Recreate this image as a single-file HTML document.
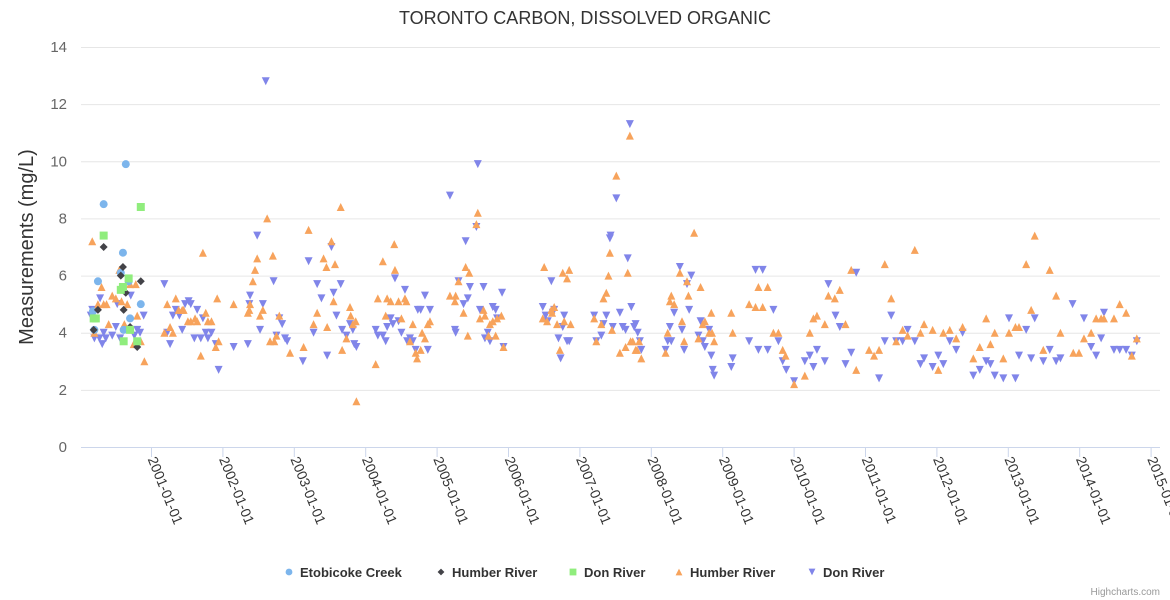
<!DOCTYPE html>
<html><head><meta charset="utf-8"><style>
html,body{margin:0;padding:0;background:#fff;}
svg{display:block;font-family:"Liberation Sans",sans-serif;}
</style></head><body>
<svg id="chart" width="1170" height="600" viewBox="0 0 1170 600">
<text x="585" y="24" text-anchor="middle" font-size="18" fill="#333">TORONTO CARBON, DISSOLVED ORGANIC</text>
<text transform="translate(33,247) rotate(-90)" text-anchor="middle" font-size="20" fill="#333">Measurements (mg/L)</text>
<g id="grid"></g>
<g id="yticks"></g>
<line x1="81" y1="447.5" x2="1160" y2="447.5" stroke="#ccd6eb"/>
<g id="xticks"></g>
<g id="series"></g>
<g id="legend"></g>
<text x="1160" y="595" text-anchor="end" font-size="10" fill="#999">Highcharts.com</text>
</svg>
<script>
const yTicks=[0,2,4,6,8,10,12,14];
const xTickYears=[2001,2002,2003,2004,2005,2006,2007,2008,2009,2010,2011,2012,2013,2014,2015];
const etobicoke=[[2000.18,4.75],[2000.64,9.9],[2000.33,8.5],[2000.6,6.8],[2000.57,6.1],[2000.25,5.8],[2000.68,5.8],[2000.85,5.0],[2000.7,4.5],[2000.61,4.1],[2000.2,4.1]];
const humberA=[[2000.33,7.0],[2000.6,6.3],[2000.57,6.0],[2000.85,5.8],[2000.64,5.4],[2000.61,4.8],[2000.25,4.8],[2000.7,4.2],[2000.19,4.1],[2000.8,3.5]];
const donA=[[2000.33,7.4],[2000.85,8.4],[2000.68,5.9],[2000.6,5.6],[2000.57,5.5],[2000.22,4.5],[2000.19,4.5],[2000.7,4.1],[2000.61,3.7],[2000.8,3.7]];
const humberB=[[2000.17,7.2],[2000.2,4.0],[2000.25,5.0],[2000.3,5.6],[2000.33,5.0],[2000.37,5.0],[2000.4,4.3],[2000.45,5.3],[2000.5,5.2],[2000.55,6.2],[2000.58,5.1],[2000.62,4.3],[2000.66,5.0],[2000.7,5.7],[2000.75,3.6],[2000.8,4.6],[2000.9,3.0],[2000.85,3.7],[2000.78,5.7],
[2001.18,4.0],[2001.22,5.0],[2001.26,4.2],[2001.3,4.0],[2001.34,5.2],[2001.38,4.8],[2001.43,4.8],[2001.45,4.8],[2001.51,4.4],[2001.55,4.4],[2001.61,4.5],[2001.64,4.4],[2001.72,6.8],[2001.69,3.2],[2001.76,4.7],[2001.79,4.4],[2001.84,4.4],[2001.92,5.2],[2001.9,3.5],[2001.94,3.7],
[2002.15,5.0],[2002.35,4.7],[2002.37,4.8],[2002.38,5.0],[2002.42,5.8],[2002.45,6.2],[2002.48,6.6],[2002.52,4.6],[2002.56,4.8],[2002.62,8.0],[2002.7,6.7],[2002.66,3.7],[2002.72,3.7],[2002.75,3.9],[2002.79,4.6],[2002.94,3.3],
[2003.13,3.5],[2003.2,7.6],[2003.27,4.3],[2003.32,4.7],[2003.41,6.6],[2003.45,6.3],[2003.52,7.2],[2003.46,4.2],[2003.55,5.1],[2003.57,6.4],[2003.65,8.4],[2003.67,3.4],[2003.73,3.8],[2003.78,4.9],[2003.79,4.6],[2003.82,4.3],[2003.86,4.4],[2003.87,1.6],
[2004.14,2.9],[2004.17,5.2],[2004.24,6.5],[2004.28,4.6],[2004.3,5.2],[2004.35,5.1],[2004.4,7.1],[2004.41,6.2],[2004.46,5.1],[2004.5,4.5],[2004.55,5.2],[2004.57,5.1],[2004.62,3.7],[2004.66,4.3],[2004.7,3.3],[2004.72,3.1],[2004.77,3.4],[2004.79,4.0],[2004.83,3.8],[2004.87,4.3],[2004.9,4.4],
[2005.18,5.3],[2005.25,5.1],[2005.26,5.3],[2005.3,5.8],[2005.37,4.7],[2005.4,6.3],[2005.43,3.9],[2005.45,6.1],[2005.55,7.8],[2005.57,8.2],[2005.6,4.5],[2005.65,4.8],[2005.67,4.6],[2005.72,3.9],[2005.74,4.3],[2005.78,4.4],[2005.82,3.9],[2005.84,4.5],[2005.9,4.6],[2005.93,3.5],
[2006.48,4.5],[2006.5,6.3],[2006.54,4.4],[2006.6,4.8],[2006.61,4.7],[2006.64,4.9],[2006.68,4.3],[2006.72,3.4],[2006.76,6.1],[2006.78,4.4],[2006.82,5.9],[2006.85,6.2],[2006.87,4.3],
[2007.2,4.5],[2007.23,3.7],[2007.3,4.3],[2007.33,5.2],[2007.37,5.4],[2007.4,6.0],[2007.42,6.8],[2007.45,4.1],[2007.51,9.5],[2007.56,3.3],[2007.64,3.5],[2007.67,6.1],[2007.7,10.9],[2007.71,3.7],[2007.74,3.7],[2007.78,3.4],[2007.8,3.4],[2007.83,3.7],[2007.86,3.1],
[2008.2,3.3],[2008.23,4.0],[2008.26,5.1],[2008.28,5.3],[2008.32,5.0],[2008.4,6.1],[2008.43,4.4],[2008.46,3.7],[2008.52,5.3],[2008.5,5.8],[2008.6,7.5],[2008.69,5.6],[2008.66,3.8],[2008.72,4.3],[2008.75,4.4],[2008.81,4.0],[2008.84,4.7],[2008.85,4.0],[2008.88,3.7],
[2009.12,4.7],[2009.14,4.0],[2009.37,5.0],[2009.46,4.9],[2009.5,5.6],[2009.56,4.9],[2009.63,5.6],[2009.71,4.0],[2009.78,4.0],[2009.84,3.4],[2009.88,3.2],[2010.0,2.2],
[2010.15,2.5],[2010.22,4.0],[2010.27,4.5],[2010.32,4.6],[2010.43,4.3],[2010.48,5.3],[2010.57,5.2],[2010.64,5.5],[2010.72,4.3],[2010.8,6.2],[2010.87,2.7],
[2011.05,3.4],[2011.12,3.2],[2011.19,3.4],[2011.27,6.4],[2011.36,5.2],[2011.43,3.7],[2011.52,4.1],[2011.59,3.9],[2011.69,6.9],[2011.77,4.0],[2011.82,4.3],[2011.94,4.1],
[2012.02,2.7],[2012.09,4.0],[2012.18,4.1],[2012.27,3.8],[2012.36,4.2],[2012.51,3.1],[2012.6,3.5],[2012.69,4.5],[2012.75,3.6],[2012.81,4.0],[2012.93,3.1],
[2013.01,4.0],[2013.1,4.2],[2013.15,4.2],[2013.25,6.4],[2013.32,4.8],[2013.37,7.4],[2013.49,3.4],[2013.58,6.2],[2013.67,5.3],[2013.73,4.0],[2013.91,3.3],[2013.99,3.3],
[2014.06,3.8],[2014.16,4.0],[2014.23,4.5],[2014.3,4.5],[2014.34,4.5],[2014.48,4.5],[2014.56,5.0],[2014.65,4.7],[2014.73,3.2],[2014.8,3.8]];
const donB=[[2000.15,4.6],[2000.17,4.8],[2000.2,3.8],[2000.27,3.8],[2000.28,5.2],[2000.31,3.6],[2000.33,4.0],[2000.36,3.8],[2000.45,3.9],[2000.5,4.2],[2000.52,5.0],[2000.56,3.8],[2000.63,4.1],[2000.71,5.3],[2000.76,3.9],[2000.8,4.1],[2000.84,4.0],[2000.89,4.6],
[2001.18,5.7],[2001.22,4.0],[2001.26,3.6],[2001.3,4.6],[2001.34,4.8],[2001.39,4.6],[2001.43,4.1],[2001.47,5.0],[2001.52,5.1],[2001.55,5.0],[2001.64,4.8],[2001.6,3.8],[2001.69,3.8],[2001.72,4.5],[2001.76,4.0],[2001.79,3.8],[2001.84,4.0],[2001.9,3.6],[2001.94,2.7],
[2002.15,3.5],[2002.35,3.6],[2002.37,5.0],[2002.38,5.3],[2002.48,7.4],[2002.52,4.1],[2002.56,5.0],[2002.6,12.8],[2002.71,5.8],[2002.75,3.9],[2002.79,4.5],[2002.83,4.3],[2002.87,3.8],[2002.9,3.7],
[2003.12,3.0],[2003.2,6.5],[2003.27,4.0],[2003.32,5.7],[2003.38,5.2],[2003.52,7.0],[2003.46,3.2],[2003.55,5.4],[2003.59,4.6],[2003.65,5.7],[2003.67,4.1],[2003.73,3.9],[2003.78,4.3],[2003.82,4.1],[2003.84,3.6],[2003.87,3.5],
[2004.14,4.1],[2004.17,3.9],[2004.24,3.9],[2004.28,3.7],[2004.3,4.2],[2004.35,4.5],[2004.38,4.3],[2004.41,5.9],[2004.46,4.4],[2004.5,4.0],[2004.55,5.5],[2004.58,3.7],[2004.62,3.8],[2004.66,3.7],[2004.7,3.4],[2004.73,4.8],[2004.77,4.8],[2004.83,5.3],[2004.87,3.4],[2004.9,4.8],
[2005.18,8.8],[2005.25,4.1],[2005.26,4.0],[2005.3,5.8],[2005.37,5.0],[2005.4,7.2],[2005.43,5.2],[2005.46,5.6],[2005.55,7.7],[2005.57,9.9],[2005.65,5.6],[2005.6,4.8],[2005.67,3.8],[2005.71,4.0],[2005.74,3.7],[2005.78,4.9],[2005.82,4.8],[2005.84,4.5],[2005.91,5.4],[2005.93,3.5],
[2006.48,4.9],[2006.52,4.6],[2006.55,4.4],[2006.6,5.8],[2006.62,4.7],[2006.64,4.8],[2006.7,3.8],[2006.73,3.1],[2006.76,4.2],[2006.78,4.6],[2006.82,3.7],[2006.85,3.7],
[2007.2,4.6],[2007.23,3.7],[2007.3,3.9],[2007.33,4.3],[2007.37,4.6],[2007.42,7.3],[2007.43,7.4],[2007.46,4.2],[2007.51,8.7],[2007.56,4.7],[2007.6,4.2],[2007.64,4.1],[2007.67,6.6],[2007.7,11.3],[2007.72,4.9],[2007.76,4.2],[2007.78,4.3],[2007.81,4.0],[2007.84,3.7],[2007.86,3.4],
[2008.2,3.4],[2008.23,3.7],[2008.26,4.2],[2008.28,3.7],[2008.32,4.7],[2008.4,6.3],[2008.43,4.1],[2008.46,3.4],[2008.5,5.7],[2008.53,4.8],[2008.56,6.0],[2008.66,3.9],[2008.69,4.4],[2008.72,3.7],[2008.75,3.5],[2008.81,4.1],[2008.84,3.2],[2008.86,2.7],[2008.88,2.5],
[2009.12,2.8],[2009.14,3.1],[2009.37,3.7],[2009.46,6.2],[2009.5,3.4],[2009.56,6.2],[2009.63,3.4],[2009.71,4.8],[2009.78,3.7],[2009.84,3.0],[2009.89,2.7],[2010.0,2.3],
[2010.15,3.0],[2010.22,3.2],[2010.27,2.8],[2010.32,3.4],[2010.43,3.0],[2010.48,5.7],[2010.58,4.6],[2010.64,4.2],[2010.72,2.9],[2010.8,3.3],[2010.87,6.1],
[2011.19,2.4],[2011.27,3.7],[2011.36,4.6],[2011.43,3.7],[2011.52,3.7],[2011.59,4.1],[2011.69,3.7],[2011.77,2.9],[2011.82,3.1],[2011.94,2.8],
[2012.02,3.2],[2012.09,2.9],[2012.18,3.7],[2012.27,3.4],[2012.36,4.0],[2012.51,2.5],[2012.6,2.7],[2012.69,3.0],[2012.75,2.9],[2012.81,2.5],[2012.93,2.4],
[2013.01,4.5],[2013.1,2.4],[2013.15,3.2],[2013.25,4.1],[2013.32,3.1],[2013.37,4.5],[2013.49,3.0],[2013.58,3.4],[2013.67,3.0],[2013.73,3.1],[2013.9,5.0],
[2014.06,4.5],[2014.16,3.5],[2014.23,3.2],[2014.3,3.8],[2014.34,4.7],[2014.48,3.4],[2014.56,3.4],[2014.65,3.4],[2014.73,3.2],[2014.8,3.7]];

const NS="http://www.w3.org/2000/svg";
function xs(yr){return 151.5+(yr-2001)*71.4;}
function ys(v){return 447-v*28.571;}
function mk(tag,attrs,parent){const e=document.createElementNS(NS,tag);for(const k in attrs)e.setAttribute(k,attrs[k]);parent.appendChild(e);return e;}
const grid=document.getElementById('grid'),yt=document.getElementById('yticks'),xt=document.getElementById('xticks'),ser=document.getElementById('series'),leg=document.getElementById('legend');
yTicks.forEach(v=>{
  if(v>0){const l=mk('line',{x1:81,x2:1160,y1:ys(v)+0.5,y2:ys(v)+0.5,stroke:'#e6e6e6'},grid);
  
  }
  const t=mk('text',{x:67,y:ys(v)+5,'text-anchor':'end','font-size':15,fill:'#666'},yt);
  t.textContent=v;
  
  
});
xTickYears.forEach(y=>{
  const x=xs(y);
  const l=mk('line',{x1:x,x2:x,y1:447,y2:457,stroke:'#ccd6eb'},xt);
  
  
  const t=mk('text',{x:0,y:0,'font-size':14,fill:'#333',transform:`translate(${x-4},459) rotate(68)`},xt);
  t.textContent=y+'-01-01';
  
  
});
function shape(kind,x,y,color,parent){
  let e;
  if(kind==='circle')e=mk('circle',{cx:x,cy:y,r:4,fill:color},parent);
  else if(kind==='diamond')e=mk('path',{d:`M${x},${y-4}L${x+4},${y}L${x},${y+4}L${x-4},${y}Z`,fill:color},parent);
  else if(kind==='square')e=mk('rect',{x:x-4,y:y-4,width:8,height:8,fill:color},parent);
  else if(kind==='tri')e=mk('path',{d:`M${x},${y-4}L${x+4},${y+4}L${x-4},${y+4}Z`,fill:color},parent);
  else e=mk('path',{d:`M${x-4},${y-4}L${x+4},${y-4}L${x},${y+4}Z`,fill:color},parent);
  return e;
}
const seriesList=[
  {name:'Etobicoke Creek',data:etobicoke,kind:'circle',color:'#7cb5ec',lx:289},
  {name:'Humber River',data:humberA,kind:'diamond',color:'#434348',lx:441},
  {name:'Don River',data:donA,kind:'square',color:'#90ed7d',lx:573},
  {name:'Humber River',data:humberB,kind:'tri',color:'#f7a35c',lx:679},
  {name:'Don River',data:donB,kind:'tridown',color:'#8085e9',lx:812}
];
const order=[4,3,0,1,2];
order.forEach(i=>{
  const s=seriesList[i];
  const g=mk('g',{},ser);
  
  
  s.data.forEach(p=>{
    const m=shape(s.kind,xs(p[0]),ys(p[1]),s.color,g);
    
    
  });
});
seriesList.forEach(s=>{
  const g=mk('g',{},leg);
  
  
  const m=shape(s.kind,s.lx,572,s.color,g);
  m.setAttribute('transform',`translate(${s.lx},572) scale(0.85) translate(${-s.lx},-572)`);
  const t=mk('text',{x:s.lx+11,y:577,'font-size':13,'font-weight':'bold',fill:'#333'},g);
  t.textContent=s.name;
});
</script>
</body></html>
